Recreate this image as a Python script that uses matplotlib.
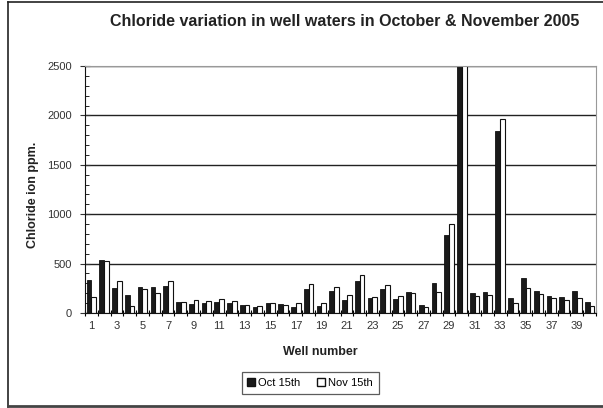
import matplotlib.pyplot as plt
import numpy as np
from matplotlib.lines import Line2D
from matplotlib.patches import Patch

plt.rcParams['font.family'] = ['Liberation Sans', 'DejaVu Sans']

# well numbers and chloride readings (ppm)
wells = list(range(1, 41))
oct_15 = [330, 535, 255, 185, 260, 260, 270, 110, 90, 100,
          110, 100, 85, 60, 100, 95, 60, 245, 75, 220,
          130, 320, 155, 245, 145, 215, 80, 300, 790, 2700,
          205, 210, 1845, 155, 355, 220, 170, 165, 220, 110]
nov_15 = [165, 525, 320, 75, 245, 205, 320, 110, 135, 120,
          140, 120, 80, 75, 100, 85, 100, 290, 100, 265,
          180, 380, 165, 280, 175, 205, 60, 210, 905, 2650,
          175, 185, 1960, 100, 255, 195, 155, 135, 155, 70]
tick_labels = [str(w) for w in wells if w % 2 == 1]

fig = plt.figure(figsize=(6.03, 4.08), dpi=100)
ax = fig.add_axes([85/603, 1-313/408, 511/603, 247/408])

x = np.arange(len(wells))
w = 0.37
ax.bar(x - w/2, oct_15, w, color='#1a1a1a', edgecolor='#111111', linewidth=0.6)
ax.bar(x + w/2, nov_15, w, color='white', edgecolor='#111111', linewidth=0.8)

ax.set_ylim(0, 2500)
ax.set_xlim(-0.5, len(wells) - 0.5)
ax.set_yticks(np.arange(0, 2501, 500))
ax.set_yticks(np.arange(0, 2501, 100), minor=True)
ax.yaxis.grid(True, which='major', color='#222222', linewidth=1.0)
ax.set_axisbelow(True)

ax.set_xticks(x[::2])
ax.set_xticklabels(tick_labels)
ax.set_xticks(np.arange(-0.5, len(wells), 1), minor=True)
ax.tick_params(axis='x', which='major', length=0, pad=6, labelsize=8, colors='#333333')
ax.tick_params(axis='x', which='minor', direction='inout', length=5, width=0.8)
ax.tick_params(axis='y', which='major', direction='inout', length=7, width=0.8, labelsize=8, colors='#333333', pad=6)
ax.tick_params(axis='y', which='minor', direction='in', length=3, width=0.6)

for s in ['top', 'right']:
    ax.spines[s].set_color('#999999')
for s in ['left', 'bottom']:
    ax.spines[s].set_color('#111111')

ax.set_ylabel('Chloride ion ppm.', fontsize=9, fontweight='bold', color='#222222')
ax.yaxis.set_label_coords(-0.09, 0.48)
ax.set_xlabel('Well number', fontsize=9, fontweight='bold', color='#222222')
ax.xaxis.set_label_coords((320 - 85) / 511, -0.135)

fig.text(345/603, 1-22/408, 'Chloride variation in well waters in October & November 2005',
         ha='center', va='center', fontsize=11.5, fontweight='bold', color='#222222')

handles = [Patch(facecolor='#1a1a1a', edgecolor='#111111', label='Oct 15th'),
           Patch(facecolor='white', edgecolor='#111111', label='Nov 15th')]
leg = fig.legend(handles=handles, loc='center', bbox_to_anchor=(310/603, 1-383/408),
                 ncol=2, fontsize=8, frameon=True, fancybox=False, handlelength=0.7,
                 handleheight=0.7, handletextpad=0.3, columnspacing=1.5, borderpad=0.5)
leg.get_frame().set_edgecolor('#333333')
leg.get_frame().set_linewidth(0.9)

# outer chart border
fig.add_artist(Line2D([8/603, 8/603], [1/408, 1-2/408], color='#222222', linewidth=1.2))
fig.add_artist(Line2D([8/603, 1], [1-2/408, 1-2/408], color='#222222', linewidth=1.2))
fig.add_artist(Line2D([8/603, 1], [2/408, 2/408], color='#444444', linewidth=2))

fig.savefig('out.png', dpi=100)
